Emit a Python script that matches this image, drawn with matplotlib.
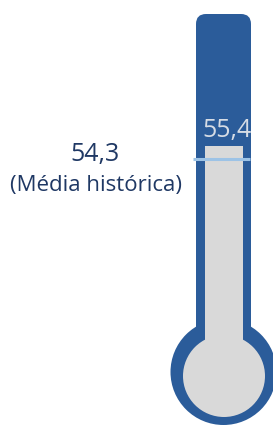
import matplotlib.pyplot as plt
from matplotlib.patches import FancyBboxPatch, Circle

# values
current = 55.4
hist_mean = 54.3
current_label = "55,4"
mean_label = "54,3"
mean_caption = "(Média histórica)"

# scale of the tube: value -> pixel row
px_per_unit = 13 / 1.1
ref_val, ref_px = current, 146

def to_px(v):
    return ref_px - (v - ref_val) * px_per_unit

blue = "#2b5c9a"
gray = "#d9d9d9"
line_c = "#9dc3e6"

fig = plt.figure(figsize=(2.73, 4.26), dpi=100)
ax = fig.add_axes([0, 0, 1, 1])
ax.set_xlim(0, 273)
ax.set_ylim(426, 0)
ax.axis("off")

# outer tube and bulb
ax.add_patch(FancyBboxPatch((196, 14), 55, 350, boxstyle="round,pad=0,rounding_size=10",
                            fc=blue, ec="none"))
ax.add_patch(Circle((223.5, 372), 53, fc=blue, ec="none"))

# inner gray column up to the current value
top = to_px(current)
ax.bar(224, 380 - top, bottom=top, width=38, color=gray)
ax.add_patch(Circle((224, 376), 41, fc=gray, ec="none"))

# historical mean marker
ax.plot([193, 250], [to_px(hist_mean)] * 2, color=line_c, lw=2.2, solid_capstyle="butt")

ax.text(227, top - 3, current_label, ha="center", va="bottom", fontsize=18,
        color="#d6dce5", family="Open Sans")
ax.text(95, 154, mean_label, ha="center", va="center", fontsize=18,
        color="#1f3864", family="Open Sans")
ax.text(96, 186, mean_caption, ha="center", va="center", fontsize=16,
        color="#1f3864", family="Open Sans")

fig.savefig("out.png", dpi=100)
